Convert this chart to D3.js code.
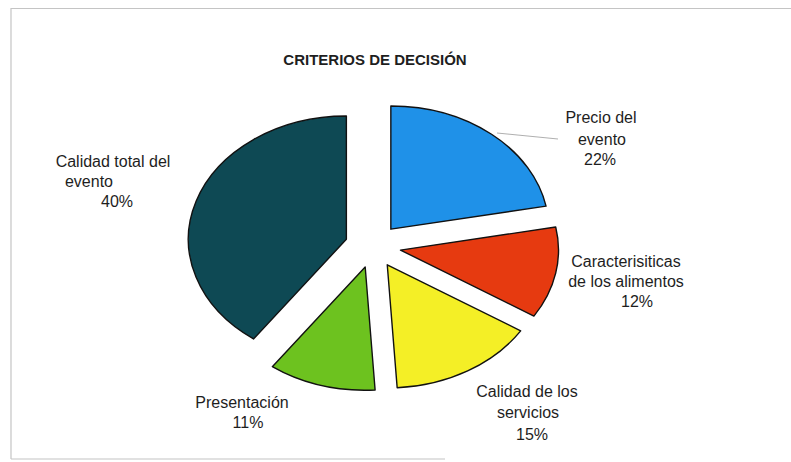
<!DOCTYPE html>
<html>
<head>
<meta charset="utf-8">
<script src="https://cdn.jsdelivr.net/npm/d3@7"></script>
<style>
  html, body { margin: 0; padding: 0; background: #fff; }
  svg { display: block; }
  text { font-family: "Liberation Sans", Arial, Helvetica, sans-serif; fill: #1e1e1e; }
</style>
</head>
<body>
<svg id="chart" width="791" height="462"></svg>
<script>
// Decision criteria shares (percent), clockwise from 12 o'clock
const categories = [
  "Precio del\nevento",
  "Caracterisiticas\nde los alimentos",
  "Calidad de los\nservicios",
  "Presentación",
  "Calidad total del\nevento"
];
const values = [22, 12, 15, 11, 40];
const colors = ["#1f91e8", "#e63a10", "#f4ef26", "#6dc21f", "#0e4954"];
const title = "CRITERIOS DE DECISIÓN";

// Label line anchors (center x, baseline y) for each category
const labelPos = [
  [[601, 123], [602, 145], [600, 165]],
  [[626, 267], [626, 287], [637, 307]],
  [[527, 397], [528, 418], [532, 440]],
  [[242, 408], [248, 428]],
  [[113, 167], [89, 187], [117, 207]]
];

const svg = d3.select("#chart");

// Frame
const frame = svg.append("g").attr("stroke", "#c4c4c4").attr("stroke-width", 1.2);
frame.append("line").attr("x1", 11).attr("y1", 8.5).attr("x2", 791).attr("y2", 8.5);
frame.append("line").attr("x1", 11).attr("y1", 8).attr("x2", 11).attr("y2", 459);
frame.append("line").attr("x1", 11).attr("y1", 459).attr("x2", 445).attr("y2", 459);

// Title
svg.append("text")
  .attr("x", 375).attr("y", 65)
  .attr("text-anchor", "middle")
  .attr("font-size", 15).attr("font-weight", "bold")
  .text(title);

// Exploded, slightly flattened pie
const cx = 373, cy = 246, radius = 158, squash = 0.78, explode = 28;
const pie = d3.pie().sort(null).value(d => d)(values);
const arc = d3.arc().innerRadius(0).outerRadius(radius);

const pieG = svg.append("g")
  .attr("transform", `translate(${cx},${cy}) scale(1,${squash})`);

pieG.selectAll("path")
  .data(pie)
  .join("path")
  .attr("d", arc)
  .attr("fill", (d, i) => colors[i])
  .attr("stroke", "#111")
  .attr("stroke-width", 1.4)
  .attr("vector-effect", "non-scaling-stroke")
  .attr("stroke-linejoin", "round")
  .attr("transform", d => {
    const a = (d.startAngle + d.endAngle) / 2;
    return `translate(${Math.sin(a) * explode},${-Math.cos(a) * explode})`;
  });

// Leader line for the first category
svg.append("line")
  .attr("x1", 497).attr("y1", 133).attr("x2", 558).attr("y2", 139)
  .attr("stroke", "#9a9a9a").attr("stroke-width", 0.8);

// Category labels with percentages
const total = d3.sum(values);
categories.forEach((name, i) => {
  const lines = name.split("\n").concat([Math.round(values[i] / total * 100) + "%"]);
  lines.forEach((t, j) => {
    const [x, y] = labelPos[i][j];
    svg.append("text")
      .attr("x", x).attr("y", y)
      .attr("text-anchor", "middle")
      .attr("font-size", 16)
      .text(t);
  });
});
</script>
</body>
</html>
